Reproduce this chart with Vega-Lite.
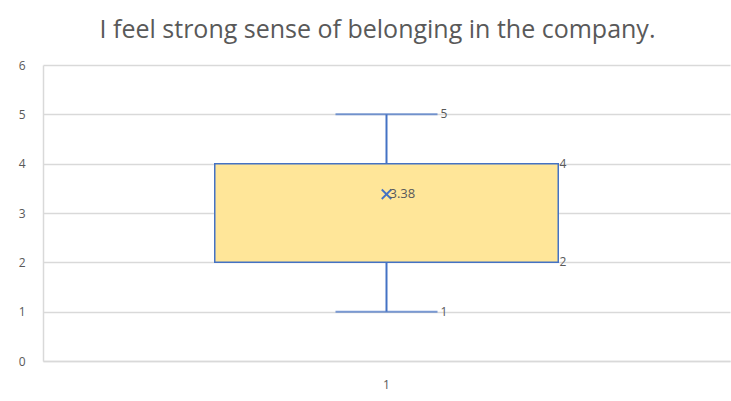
{
  "$schema": "https://vega.github.io/schema/vega-lite/v6.json",
  "width": 687,
  "height": 296,
  "autosize": {"type": "none"},
  "padding": {"left": 43, "top": 65, "right": 1, "bottom": 40},
  "background": "white",
  "title": {
    "text": "I feel strong sense of belonging in the company.",
    "font": "Open Sans",
    "fontSize": 25,
    "fontWeight": "normal",
    "color": "#595959",
    "offset": 16,
    "dx": -9
  },
  "data": {
    "values": [
      {"cat": "1", "min": 1, "q1": 2, "median": 4, "q3": 4, "max": 5, "mean": 3.38}
    ]
  },
  "encoding": {
    "x": {
      "field": "cat",
      "type": "nominal",
      "scale": {"paddingInner": 0, "paddingOuter": 0},
      "axis": {"title": null, "labelAngle": 0, "grid": false}
    }
  },
  "layer": [
    {
      "mark": {"type": "rule", "color": "#4472C4", "strokeWidth": 2},
      "encoding": {
        "y": {
          "field": "min",
          "type": "quantitative",
          "scale": {"domain": [0, 6]},
          "axis": {"title": null, "values": [0, 1, 2, 3, 4, 5, 6]}
        },
        "y2": {"field": "q1"}
      }
    },
    {
      "mark": {"type": "rule", "color": "#4472C4", "strokeWidth": 2},
      "encoding": {
        "y": {"field": "q3", "type": "quantitative"},
        "y2": {"field": "max"}
      }
    },
    {
      "mark": {"type": "bar", "width": {"band": 0.5}, "fill": "#FFE699", "stroke": "#4472C4", "strokeWidth": 1.5},
      "encoding": {
        "y": {"field": "q1", "type": "quantitative"},
        "y2": {"field": "q3"}
      }
    },
    {
      "mark": {"type": "tick", "color": "#4472C4", "size": 102, "thickness": 2},
      "encoding": {"y": {"field": "min", "type": "quantitative"}}
    },
    {
      "mark": {"type": "tick", "color": "#4472C4", "size": 102, "thickness": 2},
      "encoding": {"y": {"field": "max", "type": "quantitative"}}
    },
    {
      "mark": {"type": "point", "shape": "M-1,-1L1,1M-1,1L1,-1", "filled": false, "stroke": "#4472C4", "strokeWidth": 1.8, "size": 90, "opacity": 1, "dx": -3},
      "encoding": {"y": {"field": "mean", "type": "quantitative"}}
    },
    {
      "mark": {"type": "text", "align": "left", "baseline": "middle", "dx": 3, "font": "Open Sans", "fontSize": 13, "color": "#595959"},
      "encoding": {
        "y": {"field": "mean", "type": "quantitative"},
        "text": {"field": "mean", "type": "quantitative", "format": ".2f"}
      }
    },
    {
      "mark": {"type": "text", "align": "left", "baseline": "middle", "dx": 54, "font": "Open Sans", "fontSize": 12, "color": "#595959"},
      "encoding": {
        "y": {"field": "max", "type": "quantitative"},
        "text": {"field": "max", "type": "quantitative"}
      }
    },
    {
      "mark": {"type": "text", "align": "left", "baseline": "middle", "dx": 54, "font": "Open Sans", "fontSize": 12, "color": "#595959"},
      "encoding": {
        "y": {"field": "min", "type": "quantitative"},
        "text": {"field": "min", "type": "quantitative"}
      }
    },
    {
      "mark": {"type": "text", "align": "left", "baseline": "middle", "dx": 173, "font": "Open Sans", "fontSize": 12, "color": "#595959"},
      "encoding": {
        "y": {"field": "q3", "type": "quantitative"},
        "text": {"field": "q3", "type": "quantitative"}
      }
    },
    {
      "mark": {"type": "text", "align": "left", "baseline": "middle", "dx": 173, "font": "Open Sans", "fontSize": 12, "color": "#595959"},
      "encoding": {
        "y": {"field": "q1", "type": "quantitative"},
        "text": {"field": "q1", "type": "quantitative"}
      }
    }
  ],
  "config": {
    "view": {"stroke": null},
    "axis": {
      "ticks": false,
      "labelFont": "Open Sans",
      "labelFontSize": 12,
      "labelColor": "#595959",
      "domainColor": "#D9D9D9",
      "domainWidth": 1.5,
      "gridColor": "#D9D9D9",
      "gridWidth": 1.5
    },
    "axisY": {"labelPadding": 18},
    "axisX": {"labelPadding": 18}
  }
}
